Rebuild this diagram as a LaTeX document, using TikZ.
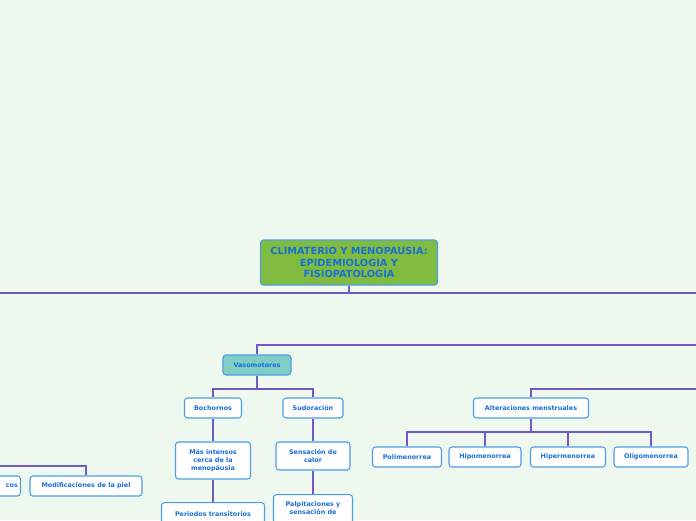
\documentclass[tikz,border=0pt]{standalone}
\usepackage{fontspec}
\newfontfamily\dvb{DejaVu Sans}[BoldFont={DejaVu Sans Bold}]
\definecolor{bg}{HTML}{EFF8EE}
\definecolor{tblue}{HTML}{1A6FD6}
\definecolor{bblue}{HTML}{4E9EE6}
\definecolor{linep}{HTML}{7357C4}
\definecolor{rootg}{HTML}{80BC40}
\definecolor{teal}{HTML}{7ECDC6}
\tikzset{
  box/.style={draw=bblue, line width=1.1pt, rounded corners=3pt, fill=white,
    text=tblue, font=\dvb\bfseries\fontsize{6.4}{8}\selectfont, align=center,
    inner sep=1pt},
  conn/.style={draw=linep, line width=1.6pt},
}
\begin{document}
\begin{tikzpicture}[x=1pt,y=-1pt]
\useasboundingbox (0,0) rectangle (696,520);
\clip (0,0) rectangle (696,520);
\fill[bg] (0,0) rectangle (696,520);
% coordinates for free ends
\coordinate (L1) at (0,293);
\coordinate (R1) at (696,293);
\coordinate (R2) at (696,345);
\coordinate (R3) at (696,389);
\coordinate (L4) at (0,466);
% nodes
\node[box, fill=rootg, minimum width=177pt, minimum height=45pt,
  font=\dvb\bfseries\fontsize{9.8}{11.5}\selectfont] (root) at (349,262.5)
  {CLIMATERIO Y MENOPAUSIA:\\EPIDEMIOLOGIA Y\\FISIOPATOLOGÍA};
\node[box, fill=teal, minimum width=68pt, minimum height=20pt] (vaso) at (257,365) {Vasomotores};
\node[box, minimum width=57pt, minimum height=20pt] (boch) at (213,408) {Bochornos};
\node[box, minimum width=60pt, minimum height=20pt] (sudo) at (313,408) {Sudoración};
\node[box, minimum width=75pt, minimum height=37pt] (mas) at (213,460.5) {Más intensos\\cerca de la\\menopáusia};
\node[box, minimum width=74pt, minimum height=28pt] (sens) at (313,456) {Sensación de\\calor};
\node[box, minimum width=103pt, minimum height=36pt, anchor=north] (peri) at (213,502) {\rule{0pt}{7pt}Periodos transitorios\\ \\ };
\node[box, minimum width=79pt, minimum height=40pt, anchor=north] (palp) at (313,494) {\rule{0pt}{7pt}Palpitaciones y\\sensación de\\ \\ };
\node[box, minimum width=115pt, minimum height=20pt] (alt) at (531,408) {Alteraciones menstruales};
\node[box, minimum width=69pt, minimum height=20pt] (poli) at (407,457) {Polimenorrea};
\node[box, minimum width=72pt, minimum height=20pt] (hipo) at (485,457) {Hipomenorrea};
\node[box, minimum width=75pt, minimum height=20pt] (hiper) at (568,457) {Hipermenorrea};
\node[box, minimum width=74pt, minimum height=20pt] (oligo) at (651,457) {Oligomenorrea};
\node[box, minimum width=112pt, minimum height=20pt] (modif) at (86,486) {Modificaciones de la piel};
\node[box, minimum width=60pt, minimum height=20pt, anchor=east, text width=55pt, align=right] (cos) at (21,486) {cos};
% connectors
\draw[conn] (L1) -- (R1);
\draw[conn] (root.south) -- (root.south |- L1);
\draw[conn] (R2) -| (vaso.north);
\draw[conn] (vaso.south) -- (vaso.south |- 0,389) -| (boch.north);
\draw[conn] (vaso.south |- 0,389) -| (sudo.north);
\draw[conn] (boch.south) -- (mas.north);
\draw[conn] (sudo.south) -- (sens.north);
\draw[conn] (mas.south) -- (peri.north);
\draw[conn] (sens.south) -- (palp.north);
\draw[conn] (R3) -| (alt.north);
\draw[conn] (alt.south) -- (alt.south |- 0,432) -| (poli.north);
\draw[conn] (alt.south |- 0,432) -| (hipo.north);
\draw[conn] (alt.south |- 0,432) -| (hiper.north);
\draw[conn] (alt.south |- 0,432) -| (oligo.north);
\draw[conn] (L4) -| (modif.north);
\end{tikzpicture}
\end{document}
